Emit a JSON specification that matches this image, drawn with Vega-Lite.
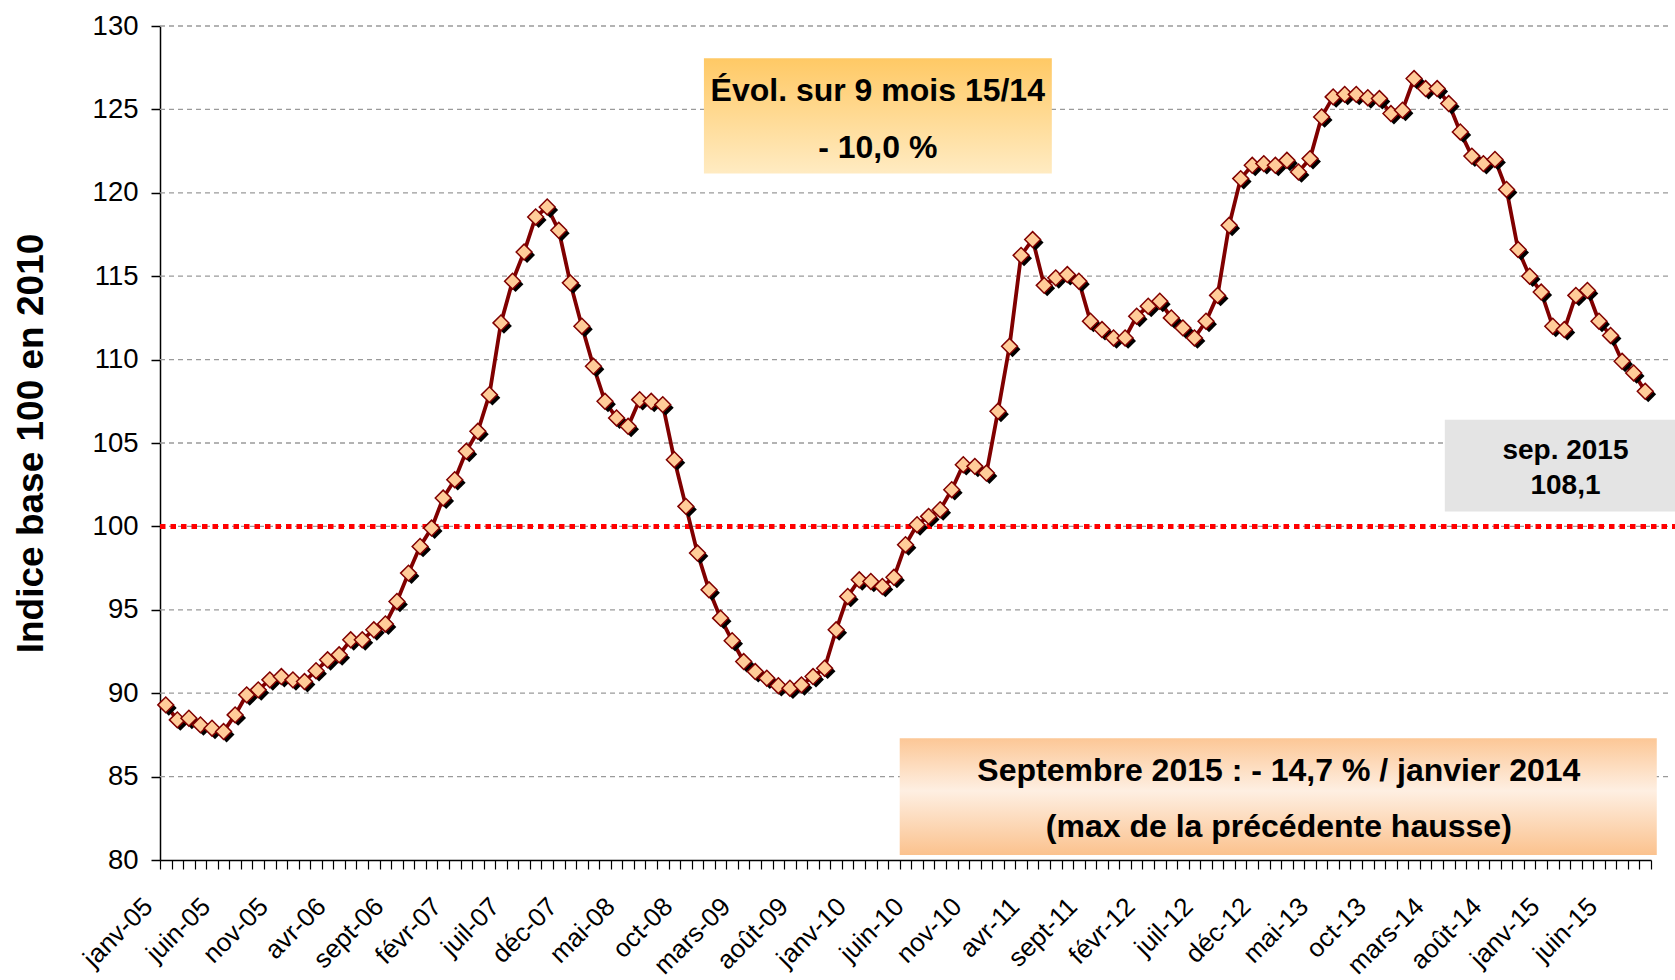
{
  "$schema": "https://vega.github.io/schema/vega-lite/v6.json",
  "width": 1491,
  "height": 834,
  "autosize": {"type": "none"},
  "padding": {"left": 160, "top": 26, "right": 24, "bottom": 120},
  "background": "white",
  "config": {"view": {"stroke": null}, "font": "Liberation Sans"},
  "datasets": {
    "serie": [
      {"i":0,"v":89.3},{"i":1,"v":88.4},{"i":2,"v":88.5},{"i":3,"v":88.1},{"i":4,"v":87.9},{"i":5,"v":87.7},
      {"i":6,"v":88.7},{"i":7,"v":89.9},{"i":8,"v":90.2},{"i":9,"v":90.8},{"i":10,"v":91.0},{"i":11,"v":90.8},
      {"i":12,"v":90.7},{"i":13,"v":91.35},{"i":14,"v":92.0},{"i":15,"v":92.3},{"i":16,"v":93.2},{"i":17,"v":93.2},
      {"i":18,"v":93.8},{"i":19,"v":94.15},{"i":20,"v":95.5},{"i":21,"v":97.2},{"i":22,"v":98.8},{"i":23,"v":99.9},
      {"i":24,"v":101.7},{"i":25,"v":102.8},{"i":26,"v":104.5},{"i":27,"v":105.7},{"i":28,"v":107.9},{"i":29,"v":112.2},
      {"i":30,"v":114.7},{"i":31,"v":116.45},{"i":32,"v":118.55},{"i":33,"v":119.15},{"i":34,"v":117.75},{"i":35,"v":114.6},
      {"i":36,"v":112.0},{"i":37,"v":109.6},{"i":38,"v":107.5},{"i":39,"v":106.5},{"i":40,"v":106.0},{"i":41,"v":107.6},
      {"i":42,"v":107.5},{"i":43,"v":107.3},{"i":44,"v":104.0},{"i":45,"v":101.2},{"i":46,"v":98.4},{"i":47,"v":96.2},
      {"i":48,"v":94.5},{"i":49,"v":93.15},{"i":50,"v":91.9},{"i":51,"v":91.3},{"i":52,"v":90.9},{"i":53,"v":90.45},
      {"i":54,"v":90.3},{"i":55,"v":90.5},{"i":56,"v":91.0},{"i":57,"v":91.5},{"i":58,"v":93.8},{"i":59,"v":95.8},
      {"i":60,"v":96.8},{"i":61,"v":96.7},{"i":62,"v":96.4},{"i":63,"v":96.95},{"i":64,"v":98.9},{"i":65,"v":100.1},
      {"i":66,"v":100.6},{"i":67,"v":101.0},{"i":68,"v":102.2},{"i":69,"v":103.7},{"i":70,"v":103.6},{"i":71,"v":103.2},
      {"i":72,"v":106.9},{"i":73,"v":110.8},{"i":74,"v":116.25},{"i":75,"v":117.2},{"i":76,"v":114.45},{"i":77,"v":114.9},
      {"i":78,"v":115.1},{"i":79,"v":114.7},{"i":80,"v":112.3},{"i":81,"v":111.8},{"i":82,"v":111.3},{"i":83,"v":111.3},
      {"i":84,"v":112.6},{"i":85,"v":113.2},{"i":86,"v":113.5},{"i":87,"v":112.5},{"i":88,"v":111.9},{"i":89,"v":111.3},
      {"i":90,"v":112.3},{"i":91,"v":113.85},{"i":92,"v":118.05},{"i":93,"v":120.85},{"i":94,"v":121.65},{"i":95,"v":121.75},
      {"i":96,"v":121.65},{"i":97,"v":121.95},{"i":98,"v":121.25},{"i":99,"v":122.05},{"i":100,"v":124.55},{"i":101,"v":125.75},
      {"i":102,"v":125.9},{"i":103,"v":125.9},{"i":104,"v":125.7},{"i":105,"v":125.65},{"i":106,"v":124.75},{"i":107,"v":124.95},
      {"i":108,"v":126.85},{"i":109,"v":126.25},{"i":110,"v":126.25},{"i":111,"v":125.35},{"i":112,"v":123.65},{"i":113,"v":122.2},
      {"i":114,"v":121.75},{"i":115,"v":122.0},{"i":116,"v":120.2},{"i":117,"v":116.6},{"i":118,"v":115.0},{"i":119,"v":114.05},
      {"i":120,"v":112.0},{"i":121,"v":111.8},{"i":122,"v":113.85},{"i":123,"v":114.15},{"i":124,"v":112.3},{"i":125,"v":111.45},
      {"i":126,"v":109.9},{"i":127,"v":109.2},{"i":128,"v":108.1}
    ],
    "grille": [{"g":85},{"g":90},{"g":95},{"g":100},{"g":105},{"g":110},{"g":115},{"g":120},{"g":125},{"g":130}],
    "reference": [{"ref":100}],
    "note": [{}]
  },
  "data": {"name": "serie"},
  "resolve": {"axis": {"x": "independent", "y": "independent"}},
  "layer": [
    {
      "data": {"name": "grille"},
      "mark": {"type": "rule", "color": "#9A9A9A", "strokeWidth": 1.3, "strokeDash": [5, 4]},
      "encoding": {
        "y": {
          "field": "g", "type": "quantitative",
          "scale": {"domain": [80, 130], "nice": false, "zero": false},
          "axis": {
            "values": [80, 85, 90, 95, 100, 105, 110, 115, 120, 125, 130],
            "title": "Indice base 100 en 2010",
            "titleFont": "Liberation Sans", "titleFontSize": 37, "titleFontWeight": "bold", "titleColor": "black", "titlePadding": 42,
            "labelFont": "Liberation Sans", "labelFontSize": 27.5, "labelColor": "black", "labelPadding": 13,
            "tickSize": 9, "tickColor": "black", "tickWidth": 1.5, "domainColor": "black", "domainWidth": 1.5, "grid": false
          }
        },
        "x": {"datum": -0.5, "type": "quantitative", "scale": {"domain": [-0.5, 128.5], "nice": false, "zero": false}, "axis": null},
        "x2": {"datum": 130.3}
      }
    },
    {
      "data": {"name": "reference"},
      "mark": {"type": "rule", "color": "#FF0000", "strokeWidth": 5, "strokeDash": [5.5, 5]},
      "encoding": {
        "y": {"field": "ref", "type": "quantitative", "axis": null},
        "x": {"datum": -0.5, "type": "quantitative", "axis": null},
        "x2": {"datum": 130.6}
      }
    },
    {
      "mark": {"type": "line", "color": "#800000", "strokeWidth": 3.8},
      "encoding": {
        "x": {
          "field": "i", "type": "quantitative",
          "axis": {
            "orient": "bottom",
            "values": [-0.5,0.5,1.5,2.5,3.5,4.5,5.5,6.5,7.5,8.5,9.5,10.5,11.5,12.5,13.5,14.5,15.5,16.5,17.5,18.5,19.5,20.5,21.5,22.5,23.5,24.5,25.5,26.5,27.5,28.5,29.5,30.5,31.5,32.5,33.5,34.5,35.5,36.5,37.5,38.5,39.5,40.5,41.5,42.5,43.5,44.5,45.5,46.5,47.5,48.5,49.5,50.5,51.5,52.5,53.5,54.5,55.5,56.5,57.5,58.5,59.5,60.5,61.5,62.5,63.5,64.5,65.5,66.5,67.5,68.5,69.5,70.5,71.5,72.5,73.5,74.5,75.5,76.5,77.5,78.5,79.5,80.5,81.5,82.5,83.5,84.5,85.5,86.5,87.5,88.5,89.5,90.5,91.5,92.5,93.5,94.5,95.5,96.5,97.5,98.5,99.5,100.5,101.5,102.5,103.5,104.5,105.5,106.5,107.5,108.5,109.5,110.5,111.5,112.5,113.5,114.5,115.5,116.5,117.5,118.5,119.5,120.5,121.5,122.5,123.5,124.5,125.5,126.5,127.5,128.5],
            "labels": false, "title": null, "grid": false,
            "tickSize": 9, "tickColor": "black", "tickWidth": 1.2, "domainColor": "black", "domainWidth": 1.5
          }
        },
        "y": {"field": "v", "type": "quantitative", "axis": null}
      }
    },
    {
      "mark": {"type": "point", "shape": "diamond", "filled": true, "color": "black", "size": 250, "opacity": 1, "xOffset": 3, "yOffset": 3},
      "encoding": {
        "x": {
          "field": "i", "type": "quantitative",
          "axis": {
            "orient": "bottom",
            "values": [0,5,10,15,20,25,30,35,40,45,50,55,60,65,70,75,80,85,90,95,100,105,110,115,120,125],
            "labelExpr": "['janv','févr','mars','avr','mai','juin','juil','août','sept','oct','nov','déc'][datum.value % 12] + '-' + (floor(datum.value / 12) + 5 < 10 ? '0' : '') + (floor(datum.value / 12) + 5)",
            "labelAngle": -45, "labelFont": "Liberation Sans", "labelFontSize": 26, "labelColor": "black", "labelPadding": 33,
            "labelOffset": -27,
            "labelFlush": false, "labelOverlap": false,
            "ticks": false, "domain": false, "grid": false, "title": null
          }
        },
        "y": {"field": "v", "type": "quantitative", "axis": null}
      }
    },
    {
      "mark": {"type": "point", "shape": "diamond", "filled": true, "fill": "#FFCC99", "stroke": "#800000", "strokeWidth": 1.5, "size": 250, "opacity": 1},
      "encoding": {
        "x": {"field": "i", "type": "quantitative", "axis": null},
        "y": {"field": "v", "type": "quantitative", "axis": null}
      }
    },
    {
      "data": {"name": "note"},
      "mark": {"type": "rect", "fill": {"gradient": "linear", "x1": 0, "y1": 0, "x2": 0, "y2": 1, "stops": [{"offset": 0, "color": "#FFC965"}, {"offset": 1, "color": "#FFEBC2"}]}},
      "encoding": {
        "x": {"datum": 46.56, "type": "quantitative", "axis": null}, "x2": {"datum": 76.66},
        "y": {"datum": 128.06, "type": "quantitative", "axis": null}, "y2": {"datum": 121.16}
      }
    },
    {
      "data": {"name": "note"},
      "mark": {"type": "text", "text": "Évol. sur 9 mois 15/14", "font": "Liberation Sans", "fontSize": 32, "fontWeight": "bold", "color": "black", "align": "center", "baseline": "middle"},
      "encoding": {"x": {"datum": 61.6, "type": "quantitative", "axis": null}, "y": {"datum": 126.13, "type": "quantitative", "axis": null}}
    },
    {
      "data": {"name": "note"},
      "mark": {"type": "text", "text": "- 10,0 %", "font": "Liberation Sans", "fontSize": 32, "fontWeight": "bold", "color": "black", "align": "center", "baseline": "middle"},
      "encoding": {"x": {"datum": 61.6, "type": "quantitative", "axis": null}, "y": {"datum": 122.66, "type": "quantitative", "axis": null}}
    },
    {
      "data": {"name": "note"},
      "mark": {"type": "rect", "fill": {"gradient": "linear", "x1": 0, "y1": 0, "x2": 0, "y2": 1, "stops": [{"offset": 0, "color": "#FCC796"}, {"offset": 0.45, "color": "#FEEFE2"}, {"offset": 1, "color": "#FBC28E"}]}},
      "encoding": {
        "x": {"datum": 63.5, "type": "quantitative", "axis": null}, "x2": {"datum": 129.0},
        "y": {"datum": 87.3, "type": "quantitative", "axis": null}, "y2": {"datum": 80.3}
      }
    },
    {
      "data": {"name": "note"},
      "mark": {"type": "text", "text": "Septembre 2015 : - 14,7 % / janvier 2014", "font": "Liberation Sans", "fontSize": 32, "fontWeight": "bold", "color": "black", "align": "center", "baseline": "middle"},
      "encoding": {"x": {"datum": 96.3, "type": "quantitative", "axis": null}, "y": {"datum": 85.36, "type": "quantitative", "axis": null}}
    },
    {
      "data": {"name": "note"},
      "mark": {"type": "text", "text": "(max de la précédente hausse)", "font": "Liberation Sans", "fontSize": 32, "fontWeight": "bold", "color": "black", "align": "center", "baseline": "middle"},
      "encoding": {"x": {"datum": 96.3, "type": "quantitative", "axis": null}, "y": {"datum": 81.96, "type": "quantitative", "axis": null}}
    },
    {
      "data": {"name": "note"},
      "mark": {"type": "rect", "fill": "#E4E4E4"},
      "encoding": {
        "x": {"datum": 110.66, "type": "quantitative", "axis": null}, "x2": {"datum": 130.6},
        "y": {"datum": 106.4, "type": "quantitative", "axis": null}, "y2": {"datum": 100.9}
      }
    },
    {
      "data": {"name": "note"},
      "mark": {"type": "text", "text": "sep. 2015", "font": "Liberation Sans", "fontSize": 28, "fontWeight": "bold", "color": "black", "align": "center", "baseline": "middle"},
      "encoding": {"x": {"datum": 121.1, "type": "quantitative", "axis": null}, "y": {"datum": 104.5, "type": "quantitative", "axis": null}}
    },
    {
      "data": {"name": "note"},
      "mark": {"type": "text", "text": "108,1", "font": "Liberation Sans", "fontSize": 28, "fontWeight": "bold", "color": "black", "align": "center", "baseline": "middle"},
      "encoding": {"x": {"datum": 121.1, "type": "quantitative", "axis": null}, "y": {"datum": 102.4, "type": "quantitative", "axis": null}}
    }
  ]
}
